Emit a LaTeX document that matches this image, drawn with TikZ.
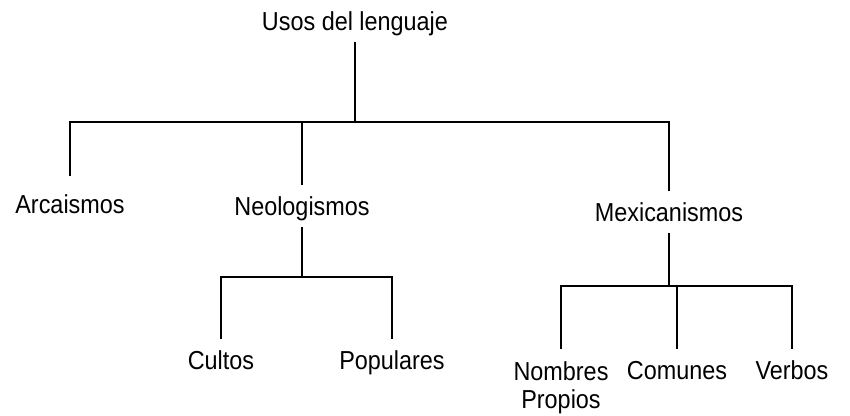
\documentclass[tikz,border=0pt]{standalone}
\usepackage{fontspec}
\setmainfont{Liberation Sans}[FakeStretch=0.9]

\begin{document}
\begin{tikzpicture}[
    x=0.75pt,
    y=-0.75pt,
    font=\fontsize{19.5pt}{21pt}\selectfont,
    term/.style={
        inner sep=0pt,
        text height=14pt,
        text depth=4pt,
        anchor=base
    },
    stem/.style={
        line width=1.3pt,
        shorten <=4pt
    },
    drop/.style={
        line width=1.3pt,
        shorten <=9pt,
        shorten >=9pt
    }
]
\useasboundingbox (0,0) rectangle (850,416);

% Root
\node[term] (usos) at (355,31) {Usos del lenguaje};

% First level
\node[term] (arc) at (70,214) {Arcaismos};
\node[term] (neo) at (302,216) {Neologismos};
\node[term] (mex) at (669,222) {Mexicanismos};

% Second level
\node[term] (cultos) at (221,370) {Cultos};
\node[term] (populares) at (392,370) {Populares};
\node[inner sep=0pt,align=center,anchor=north] (nombres) at (561,361)
    {Nombres\\Propios};
\node[term] (comunes) at (677,380) {Comunes};
\node[term] (verbos) at (792,380) {Verbos};

% Bar heights
\coordinate (bar1) at (351,122);
\coordinate (bar2) at (308,277);
\coordinate (bar3) at (670,286);

% Usos del lenguaje
\draw[stem] (usos.south) -- (usos.south |- bar1);
\draw[drop, shorten <=14pt] (arc.north) |- (bar1) -| (mex.north);
\draw[drop, shorten <=0pt] (neo.north |- bar1) -- (neo.north);

% Neologismos
\draw[stem] (neo.south) -- (neo.south |- bar2);
\draw[drop] (cultos.north) |- (bar2) -| (populares.north);

% Mexicanismos
\draw[stem] (mex.south) -- (mex.south |- bar3);
\draw[drop] (nombres.north) |- (bar3) -| (verbos.north);
\draw[drop, shorten <=0pt] (comunes.north |- bar3) -- (comunes.north);

\end{tikzpicture}
\end{document}
